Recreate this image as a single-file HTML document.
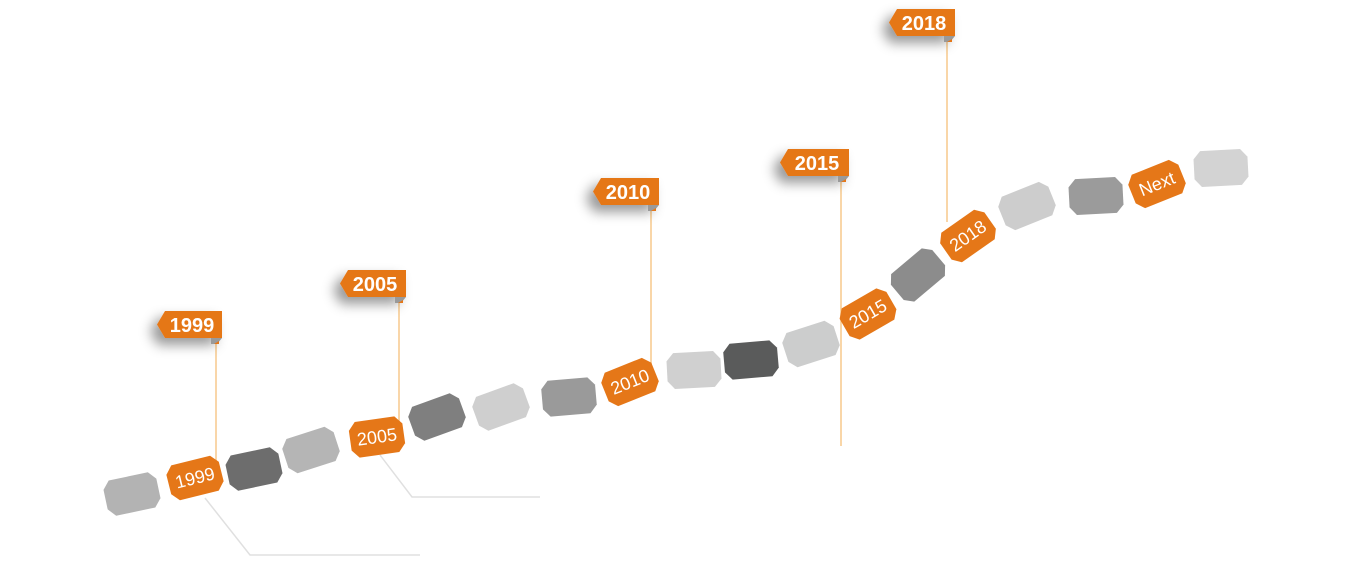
<!DOCTYPE html>
<html><head><meta charset="utf-8"><style>
html,body{margin:0;padding:0;background:#fff;width:1350px;height:564px;overflow:hidden}
svg text{font-family:"Liberation Sans",sans-serif}
</style></head><body>
<svg width="1350" height="564" viewBox="0 0 1350 564" xmlns="http://www.w3.org/2000/svg">
<defs>
<path id="oct" d="M-20,-18 L20,-18 L27,-10 L27,10 L20,18 L-20,18 L-27,10 L-27,-10 Z"/>
<filter id="sh" x="-50%" y="-80%" width="200%" height="260%"><feDropShadow dx="-7" dy="7" stdDeviation="6" flood-color="#000" flood-opacity="0.4"/></filter>
</defs>
<polyline points="205,498 250,555 420,555" fill="none" stroke="#e0e0e0" stroke-width="1.5"/>
<polyline points="380,455 412,497 540,497" fill="none" stroke="#e0e0e0" stroke-width="1.5"/>
<g stroke="#f7c98c" stroke-width="1.5">
<line x1="216" y1="340" x2="216" y2="462"/>
<line x1="399" y1="299" x2="399" y2="422"/>
<line x1="651" y1="207" x2="651" y2="368"/>
<line x1="841" y1="178" x2="841" y2="446"/>
<line x1="947" y1="38" x2="947" y2="222"/>
</g>
<g>
<use href="#oct" transform="translate(132,494) rotate(-12)" fill="#b3b3b3"/>
<use href="#oct" transform="translate(254,469) rotate(-12)" fill="#6d6d6d"/>
<use href="#oct" transform="translate(311,450) rotate(-18)" fill="#b5b5b5"/>
<use href="#oct" transform="translate(437,417) rotate(-20)" fill="#7f7f7f"/>
<use href="#oct" transform="translate(501,407) rotate(-20)" fill="#cfcfcf"/>
<use href="#oct" transform="translate(569,397) rotate(-5)" fill="#9a9a9a"/>
<use href="#oct" transform="translate(694,370) rotate(-3)" fill="#d0d0d0"/>
<use href="#oct" transform="translate(751,360) rotate(-5)" fill="#5a5b5b"/>
<use href="#oct" transform="translate(811,344) rotate(-18)" fill="#cccdcd"/>
<use href="#oct" transform="translate(918,275) rotate(-40)" fill="#8c8c8c"/>
<use href="#oct" transform="translate(1027,206) rotate(-22)" fill="#cdcdcd"/>
<use href="#oct" transform="translate(1096,196) rotate(-3)" fill="#9b9b9b"/>
<use href="#oct" transform="translate(1221,168) rotate(-3)" fill="#d3d3d3"/>
</g>
<g fill="#fff" font-size="18" text-anchor="middle">
<g transform="translate(195,478) rotate(-14)"><use href="#oct" fill="#e57718"/><text y="6">1999</text></g>
<g transform="translate(377,437) rotate(-8)"><use href="#oct" fill="#e57718"/><text y="6">2005</text></g>
<g transform="translate(630,382) rotate(-22)"><use href="#oct" fill="#e57718"/><text y="6">2010</text></g>
<g transform="translate(868,314) rotate(-30)"><use href="#oct" fill="#e57718"/><text y="6">2015</text></g>
<g transform="translate(968,236) rotate(-35)"><use href="#oct" fill="#e57718"/><text y="6">2018</text></g>
<g transform="translate(1157,184) rotate(-22)"><use href="#oct" fill="#e57718"/><text y="6">Next</text></g>
</g>
<g font-size="20" font-weight="bold" fill="#fff" text-anchor="middle">
<g transform="translate(157,311)"><polygon points="0,13.5 8,0 65,0 65,27 8,27" fill="#e57718" filter="url(#sh)"/><polygon points="54,27 65,27 60,33 54,33" fill="#9a9a9a"/><polygon points="57,33 62,30 62,33" fill="#e57718"/><text x="35" y="21">1999</text></g>
<g transform="translate(340,270)"><polygon points="0,13.5 8,0 66,0 66,27 8,27" fill="#e57718" filter="url(#sh)"/><polygon points="55,27 66,27 61,33 55,33" fill="#9a9a9a"/><polygon points="58,33 63,30 63,33" fill="#e57718"/><text x="35" y="21">2005</text></g>
<g transform="translate(593,178)"><polygon points="0,13.5 8,0 66,0 66,27 8,27" fill="#e57718" filter="url(#sh)"/><polygon points="55,27 66,27 61,33 55,33" fill="#9a9a9a"/><polygon points="58,33 63,30 63,33" fill="#e57718"/><text x="35" y="21">2010</text></g>
<g transform="translate(780,149)"><polygon points="0,13.5 8,0 69,0 69,27 8,27" fill="#e57718" filter="url(#sh)"/><polygon points="58,27 69,27 64,33 58,33" fill="#9a9a9a"/><polygon points="61,33 66,30 66,33" fill="#e57718"/><text x="37" y="21">2015</text></g>
<g transform="translate(889,9)"><polygon points="0,13.5 8,0 66,0 66,27 8,27" fill="#e57718" filter="url(#sh)"/><polygon points="55,27 66,27 61,33 55,33" fill="#9a9a9a"/><polygon points="58,33 63,30 63,33" fill="#e57718"/><text x="35" y="21">2018</text></g>
</g>
</svg>
</body></html>
